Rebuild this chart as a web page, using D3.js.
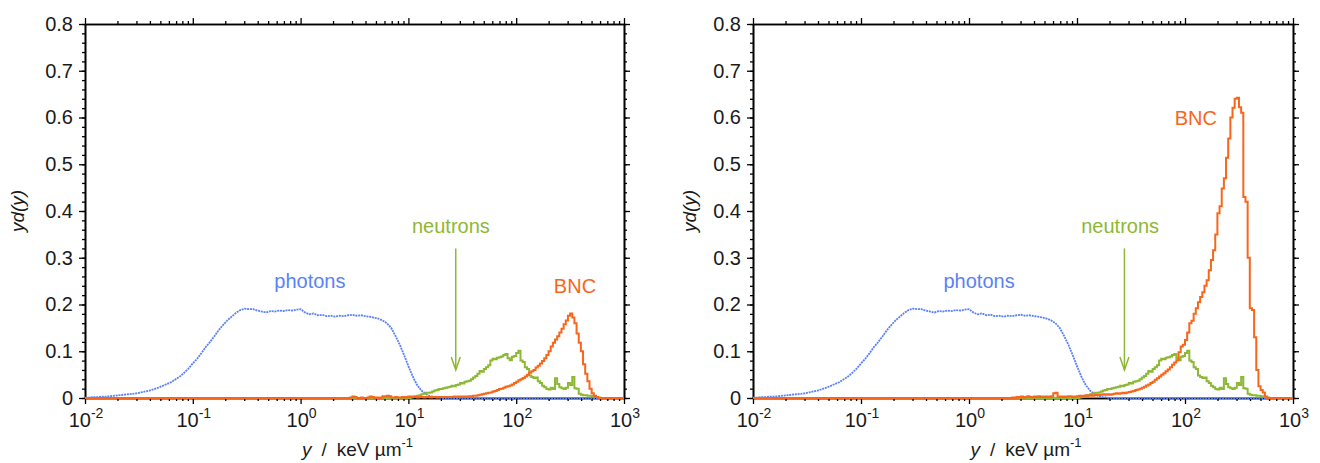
<!DOCTYPE html>
<html>
<head>
<meta charset="utf-8">
<script src="https://cdn.jsdelivr.net/npm/d3@7"></script>
<style>
  body { margin: 0; background: #fff; }
  svg text { font-family: "Liberation Sans", Arial, sans-serif; fill: #1a1a1a; }
  .axis .domain { stroke: #000; stroke-width: 1.6; }
  .axis .tick line { stroke: #000; stroke-width: 1.3; }
</style>
</head>
<body>
<div id="chart"></div>
<script>
// histogram bins are equal in log10(y): 50 per decade; photon points 25 per decade
var histStep = 0.02,
    photonStep = 0.04;

// photons, yd(y) from log10(y) = -2.00 upwards
var photonStart = -2.0;
var photonValues = [
  0.001, 0.001, 0.002, 0.002, 0.003, 0.003, 0.004, 0.005, 0.006, 0.007,
  0.008, 0.009, 0.010, 0.012, 0.014, 0.016, 0.019, 0.022, 0.026, 0.030,
  0.034, 0.040, 0.046, 0.054, 0.063, 0.074, 0.084, 0.096, 0.109, 0.120,
  0.132, 0.145, 0.156, 0.166, 0.174, 0.182, 0.188, 0.191, 0.190, 0.190,
  0.187, 0.185, 0.183, 0.186, 0.185, 0.187, 0.186, 0.188, 0.187, 0.189,
  0.190, 0.183, 0.179, 0.181, 0.177, 0.178, 0.175, 0.176, 0.174, 0.176,
  0.175, 0.177, 0.178, 0.176, 0.177, 0.175, 0.174, 0.172, 0.170, 0.166,
  0.160, 0.150, 0.133, 0.114, 0.092, 0.068, 0.046, 0.028, 0.016, 0.009,
  0.004, 0.002, 0.001, 0.000
];

// neutrons, same in both panels, first bin edge at log10(y) = 1.00
var neutronStart = 1.0;
var neutronValues = [
  0.000, 0.001, 0.002, 0.003, 0.005, 0.006, 0.008, 0.009, 0.011, 0.011,
  0.012, 0.014, 0.016, 0.017, 0.019, 0.019, 0.021, 0.022, 0.023, 0.024,
  0.026, 0.025, 0.028, 0.029, 0.032, 0.031, 0.035, 0.036, 0.037, 0.040,
  0.044, 0.047, 0.052, 0.058, 0.056, 0.062, 0.066, 0.070, 0.080, 0.084,
  0.083, 0.086, 0.087, 0.089, 0.092, 0.094, 0.085, 0.081, 0.088, 0.090,
  0.096, 0.101, 0.080, 0.077, 0.066, 0.062, 0.048, 0.045, 0.043, 0.044,
  0.036, 0.032, 0.026, 0.023, 0.019, 0.018, 0.022, 0.019, 0.042, 0.030,
  0.023, 0.021, 0.019, 0.022, 0.032, 0.028, 0.045, 0.021, 0.020, 0.009,
  0.007, 0.006, 0.006, 0.005, 0.005, 0.004, 0.003, 0.002, 0.001, 0.000
];

// BNC, first bin edge at log10(y) = 0.40
var bncStart = 0.4;
var bncLeftValues = [
  0.000, 0.000, 0.000, 0.001, 0.003, 0.002, 0.000, 0.000, 0.001, 0.000,
  0.000, 0.001, 0.003, 0.002, 0.000, 0.001, 0.000, 0.001, 0.004, 0.003,
  0.005, 0.004, 0.001, 0.001, 0.002, 0.001, 0.001, 0.002, 0.001, 0.002,
  0.003, 0.002, 0.003, 0.002, 0.001, 0.002, 0.002, 0.001, 0.002, 0.002,
  0.001, 0.002, 0.002, 0.001, 0.002, 0.002, 0.002, 0.002, 0.002, 0.002,
  0.002, 0.003, 0.002, 0.003, 0.003, 0.003, 0.003, 0.003, 0.004, 0.004,
  0.005, 0.005, 0.006, 0.007, 0.008, 0.009, 0.010, 0.011, 0.012, 0.014,
  0.015, 0.017, 0.019, 0.020, 0.022, 0.024, 0.025, 0.027, 0.029, 0.032,
  0.035, 0.038, 0.040, 0.043, 0.046, 0.050, 0.054, 0.057, 0.060, 0.065,
  0.069, 0.074, 0.079, 0.085, 0.092, 0.100, 0.110, 0.118, 0.125, 0.132,
  0.140, 0.148, 0.158, 0.166, 0.176, 0.181, 0.172, 0.160, 0.138, 0.118,
  0.100, 0.072, 0.052, 0.036, 0.020, 0.010, 0.005, 0.002, 0.000, 0.000
];
var bncRightValues = [
  0.001, 0.000, 0.002, 0.001, 0.003, 0.001, 0.002, 0.004, 0.002, 0.001,
  0.003, 0.002, 0.004, 0.002, 0.003, 0.002, 0.003, 0.002, 0.004, 0.010,
  0.011, 0.003, 0.002, 0.003, 0.002, 0.003, 0.004, 0.003, 0.002, 0.003,
  0.004, 0.005, 0.004, 0.005, 0.006, 0.005, 0.006, 0.005, 0.006, 0.007,
  0.006, 0.007, 0.008, 0.007, 0.008, 0.007, 0.008, 0.009, 0.010, 0.009,
  0.010, 0.011, 0.010, 0.012, 0.013, 0.014, 0.015, 0.017, 0.018, 0.020,
  0.022, 0.024, 0.027, 0.029, 0.032, 0.035, 0.039, 0.042, 0.046, 0.050,
  0.053, 0.057, 0.061, 0.066, 0.071, 0.076, 0.081, 0.098, 0.110, 0.114,
  0.124, 0.140, 0.160, 0.165, 0.180, 0.192, 0.205, 0.216, 0.226, 0.240,
  0.252, 0.273, 0.295, 0.316, 0.350, 0.395, 0.410, 0.448, 0.470, 0.514,
  0.555, 0.600, 0.621, 0.640, 0.642, 0.622, 0.610, 0.430, 0.420, 0.300,
  0.192, 0.188, 0.130, 0.060, 0.025, 0.017, 0.012, 0.003, 0.000, 0.000
];

var xDecades = [-2, -1, 0, 1, 2, 3];
var yTicks = [0, 0.1, 0.2, 0.3, 0.4, 0.5, 0.6, 0.7, 0.8];

var colors = {photons: "#5a82f6", neutrons: "#8db834", bnc: "#f8661c"};

var width = 1320, height = 463,
    plotTop = 24, plotBottom = 398;

var panels = [
  {x0: 85, x1: 624, titleX: 17, bnc: bncLeftValues,
   photonsAt: [1.22, 0.235], neutronsAt: [24.8, 0.352], bncAt: [351, 0.225], arrowX: 27.5},
  {x0: 753, x1: 1293, titleX: 689, bnc: bncRightValues,
   photonsAt: [1.24, 0.235], neutronsAt: [25.1, 0.352], bncAt: [126, 0.583], arrowX: 27.5}
];

var svg = d3.select("#chart").append("svg")
  .attr("width", width)
  .attr("height", height);

// step outline of a log-binned histogram, running along zero outside its bins
function histPoints(start, step, values) {
  var pts = [[0.01, 0], [Math.pow(10, start), 0]];
  values.forEach(function (v, i) {
    pts.push([Math.pow(10, start + i * step), v]);
    pts.push([Math.pow(10, start + (i + 1) * step), v]);
  });
  pts.push([Math.pow(10, start + values.length * step), 0]);
  pts.push([1000, 0]);
  return pts;
}

function drawPanel(p) {
  var x = d3.scaleLog().domain([0.01, 1000]).range([p.x0, p.x1]);
  var y = d3.scaleLinear().domain([0, 0.8]).range([plotBottom, plotTop]);

  var xMajor = xDecades.map(function (d) { return Math.pow(10, d); });
  var xMinor = [];
  xDecades.slice(0, -1).forEach(function (d) {
    for (var m = 2; m < 10; m++) xMinor.push(m * Math.pow(10, d));
  });
  var yMinor = d3.range(0, 41).map(function (i) { return i * 0.02; });

  var g = svg.append("g");

  // frame with outward ticks on all four sides
  g.append("g").attr("class", "axis")
    .attr("transform", "translate(0," + plotBottom + ")")
    .call(d3.axisBottom(x).tickValues(xMinor).tickSize(3).tickSizeOuter(0).tickFormat(""));
  g.append("g").attr("class", "axis")
    .attr("transform", "translate(0," + plotBottom + ")")
    .call(d3.axisBottom(x).tickValues(xMajor).tickSize(6).tickSizeOuter(0).tickFormat(""));
  g.append("g").attr("class", "axis")
    .attr("transform", "translate(0," + plotTop + ")")
    .call(d3.axisTop(x).tickValues(xMinor).tickSize(3).tickSizeOuter(0).tickFormat(""));
  g.append("g").attr("class", "axis")
    .attr("transform", "translate(0," + plotTop + ")")
    .call(d3.axisTop(x).tickValues(xMajor).tickSize(6).tickSizeOuter(0).tickFormat(""));

  g.append("g").attr("class", "axis")
    .attr("transform", "translate(" + p.x0 + ",0)")
    .call(d3.axisLeft(y).tickValues(yMinor).tickSize(3).tickSizeOuter(0).tickFormat(""));
  g.append("g").attr("class", "axis")
    .attr("transform", "translate(" + p.x0 + ",0)")
    .call(d3.axisLeft(y).tickValues(yTicks).tickSize(6).tickSizeOuter(0).tickPadding(6)
      .tickFormat(function (d) { return d === 0 ? "0" : d3.format(".1f")(d); }))
    .selectAll("text")
      .style("font-size", "20px")
      .attr("fill", "#1a1a1a");
  g.append("g").attr("class", "axis")
    .attr("transform", "translate(" + p.x1 + ",0)")
    .call(d3.axisRight(y).tickValues(yMinor).tickSize(3).tickSizeOuter(0).tickFormat(""));
  g.append("g").attr("class", "axis")
    .attr("transform", "translate(" + p.x1 + ",0)")
    .call(d3.axisRight(y).tickValues(yTicks).tickSize(6).tickSizeOuter(0).tickFormat(""));

  // decade labels 10^n
  var lab = g.selectAll("text.xlab")
    .data(xDecades)
    .enter().append("text")
      .attr("class", "xlab")
      .attr("x", function (d) { return x(Math.pow(10, d)) + 1; })
      .attr("y", 427)
      .attr("text-anchor", "middle")
      .style("font-size", "20px");
  lab.append("tspan").text("10");
  lab.append("tspan")
    .attr("dy", -9)
    .style("font-size", "14px")
    .text(function (d) { return d < 0 ? "-" + (-d) : String(d); });

  // axis titles
  var xt = g.append("text")
    .attr("x", (p.x0 + p.x1) / 2 + 3)
    .attr("y", 456)
    .attr("text-anchor", "middle")
    .style("font-size", "19px");
  xt.append("tspan").style("font-style", "italic").text("y");
  xt.append("tspan").attr("dx", 10).text("/");
  xt.append("tspan").attr("dx", 10).text("keV µm");
  xt.append("tspan").attr("dy", -9).style("font-size", "13px").text("-1");

  g.append("text")
    .attr("transform", "translate(" + p.titleX + "," + (plotTop + plotBottom) / 2 + ") rotate(-90)")
    .attr("text-anchor", "middle")
    .attr("dy", "0.35em")
    .style("font-size", "19px")
    .style("font-style", "italic")
    .text("yd(y)");

  var line = d3.line()
    .x(function (d) { return x(d[0]); })
    .y(function (d) { return y(d[1]); });

  // photon spectrum, fine points joined
  var photonPts = photonValues.map(function (v, i) {
    return [Math.pow(10, photonStart + i * photonStep), v];
  });
  photonPts.push([1000, 0]);
  g.append("path")
    .datum(photonPts)
    .attr("d", line)
    .attr("fill", "none")
    .attr("stroke", colors.photons)
    .attr("stroke-width", 1.8)
    .attr("stroke-dasharray", "2,0.8");

  g.append("path")
    .datum(histPoints(neutronStart, histStep, neutronValues))
    .attr("d", line)
    .attr("fill", "none")
    .attr("stroke", colors.neutrons)
    .attr("stroke-width", 2);

  g.append("path")
    .datum(histPoints(bncStart, histStep, p.bnc))
    .attr("d", line)
    .attr("fill", "none")
    .attr("stroke", colors.bnc)
    .attr("stroke-width", 2);

  // labels and the arrow pointing at the neutron curve
  g.append("text")
    .attr("x", x(p.photonsAt[0])).attr("y", y(p.photonsAt[1]))
    .attr("text-anchor", "middle")
    .style("font-size", "20px")
    .style("fill", colors.photons)
    .text("photons");
  g.append("text")
    .attr("x", x(p.neutronsAt[0])).attr("y", y(p.neutronsAt[1]))
    .attr("text-anchor", "middle")
    .style("font-size", "20px")
    .style("fill", colors.neutrons)
    .text("neutrons");
  g.append("text")
    .attr("x", x(p.bncAt[0])).attr("y", y(p.bncAt[1]))
    .attr("text-anchor", "middle")
    .style("font-size", "20px")
    .style("fill", colors.bnc)
    .text("BNC");

  var ax = x(p.arrowX);
  g.append("line")
    .attr("x1", ax).attr("y1", y(0.32))
    .attr("x2", ax).attr("y2", y(0.06))
    .attr("stroke", colors.neutrons)
    .attr("stroke-width", 1.5);
  g.append("path")
    .attr("d", "M" + (ax - 4.5) + "," + (y(0.06) - 13) + "L" + ax + "," + y(0.06) +
               "L" + (ax + 4.5) + "," + (y(0.06) - 13))
    .attr("fill", "none")
    .attr("stroke", colors.neutrons)
    .attr("stroke-width", 1.5);
}

panels.forEach(drawPanel);
</script>
</body>
</html>
